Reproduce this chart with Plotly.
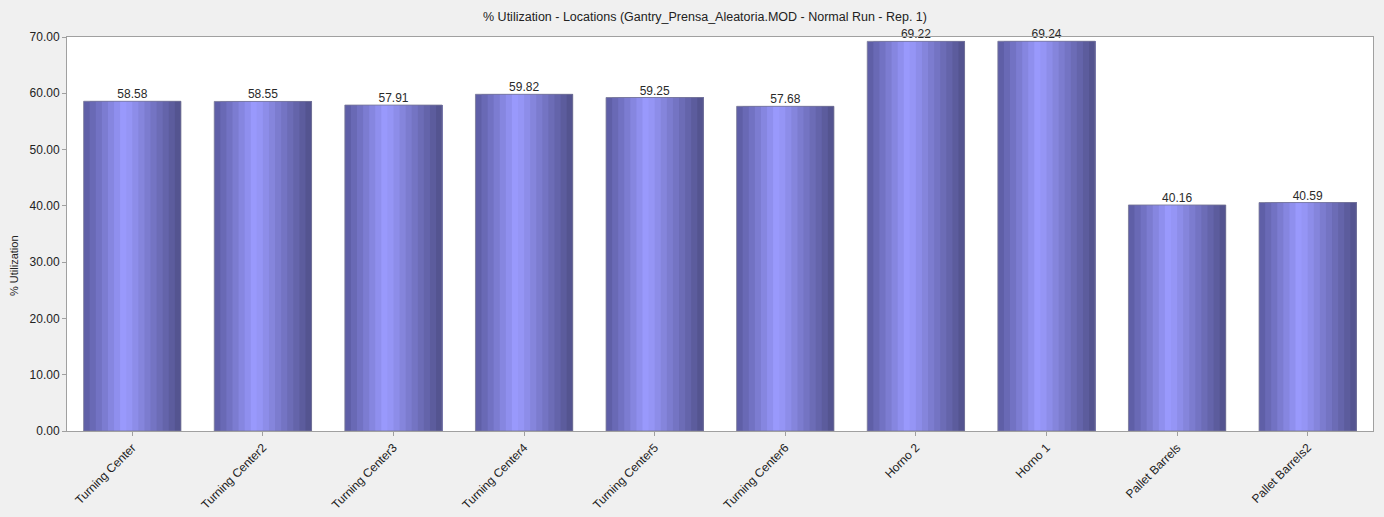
import plotly.graph_objects as go

categories = ["Turning Center", "Turning Center2", "Turning Center3", "Turning Center4",
              "Turning Center5", "Turning Center6", "Horno 2", "Horno 1",
              "Pallet Barrels", "Pallet Barrels2"]
utilization = [58.58, 58.55, 57.91, 59.82, 59.25, 57.68, 69.22, 69.24, 40.16, 40.59]
y_ticks = [0, 10, 20, 30, 40, 50, 60, 70]

BAR_W = 0.745
N_STRIPES = 16
PEAK = 0.42
LEFT = (90, 90, 160)
MID = (155, 155, 255)
RIGHT = (80, 80, 138)


def stripe_color(p):
    if p <= PEAK:
        t = p / PEAK
        a, b = LEFT, MID
    else:
        t = (p - PEAK) / (1 - PEAK)
        a, b = MID, RIGHT
    c = [round(a[i] + (b[i] - a[i]) * t) for i in range(3)]
    return "rgb(%d,%d,%d)" % tuple(c)


fig = go.Figure()
sw = BAR_W / N_STRIPES
for k in range(N_STRIPES):
    p = (k + 0.5) / N_STRIPES
    fig.add_trace(go.Bar(
        x=categories, y=utilization,
        width=BAR_W - k * sw, offset=-BAR_W / 2 + k * sw,
        marker=dict(color=stripe_color(p), line=dict(width=0)),
        showlegend=False, hoverinfo="skip",
    ))

# thin outline
fig.add_trace(go.Bar(
    x=categories, y=utilization, width=BAR_W, offset=-BAR_W / 2,
    marker=dict(color="rgba(0,0,0,0)", line=dict(color="rgba(120,120,150,0.8)", width=1)),
    showlegend=False, hoverinfo="skip",
))

fig.add_trace(go.Scatter(
    x=categories, y=utilization, mode="text",
    text=["%.2f" % v for v in utilization], textposition="top center",
    textfont=dict(family="Liberation Sans, Arial, sans-serif", size=12, color="#2a2a2a"),
    showlegend=False, hoverinfo="skip", cliponaxis=False,
))

fig.add_annotation(
    text="% Utilization", textangle=-90, showarrow=False,
    xref="paper", yref="paper", x=-53 / 1306, y=(431 - 266) / 394,
    xanchor="center", yanchor="middle", font=dict(size=11, color="#222222"),
)

fig.update_layout(
    width=1384, height=517,
    barmode="overlay",
    paper_bgcolor="#f0f0f0", plot_bgcolor="#ffffff",
    margin=dict(l=67, r=11, t=37, b=86),
    font=dict(family="Liberation Sans, Arial, sans-serif", size=12, color="#222222"),
    title=dict(text="% Utilization - Locations (Gantry_Prensa_Aleatoria.MOD - Normal Run - Rep. 1)",
               x=705 / 1384, xanchor="center", y=1 - 17 / 517, yanchor="middle",
               font=dict(size=12.5, color="#222222")),
    xaxis=dict(type="category", tickangle=-45, showgrid=False, ticks="outside", ticklen=4,
               tickcolor="#a0a0a0", showline=True, linecolor="#a0a0a0", mirror=True,
               tickfont=dict(size=12), range=[-0.5, 9.5], automargin=False),
    yaxis=dict(range=[0, 70], tickvals=y_ticks, tickformat=".2f", showgrid=False,
               ticks="outside", ticklen=4, tickcolor="#a0a0a0", showline=True,
               linecolor="#a0a0a0", mirror=True, zeroline=False, automargin=False,
               tickfont=dict(size=12)),
)

fig.write_html("out.html", config={"displayModeBar": False},
               post_script="document.body.style.margin='0';")
